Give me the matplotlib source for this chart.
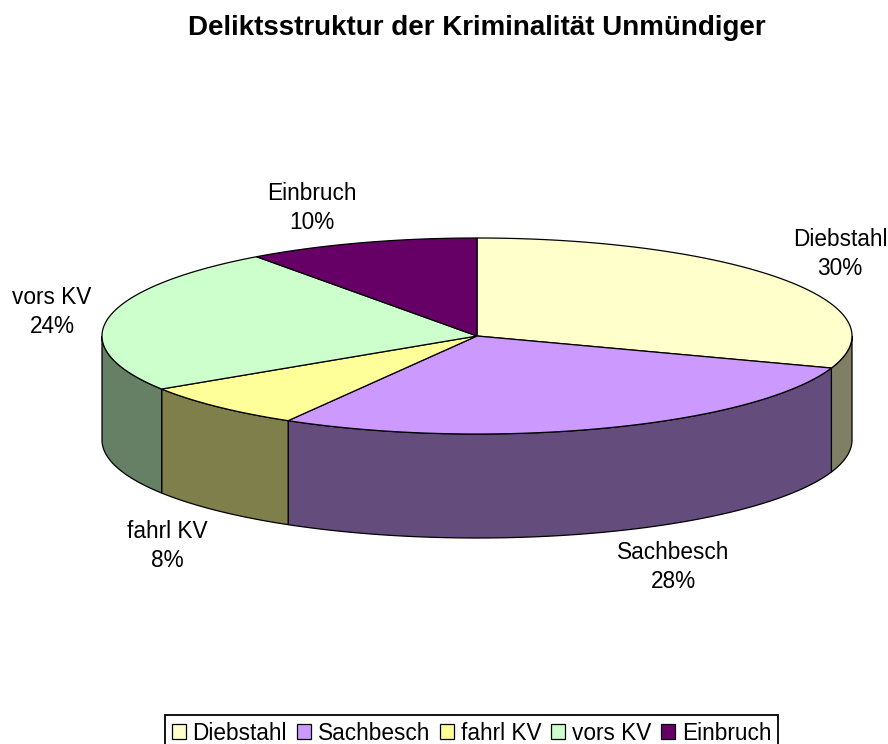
# -*- coding: utf-8 -*-
import numpy as np
import matplotlib
matplotlib.use('Agg')
import matplotlib.pyplot as plt
from matplotlib.patches import Patch, Polygon

plt.rcParams['font.family'] = ['Liberation Sans', 'DejaVu Sans']

# Daten
categories = ['Diebstahl', 'Sachbesch', 'fahrl KV', 'vors KV', 'Einbruch']
values = [30.3, 28.1, 7.5, 24.1, 10.0]
colors = ['#FFFFCC', '#CC99FF', '#FFFF99', '#CCFFCC', '#660066']
side_colors = ['#7F7F66', '#644C7C', '#7F7F4C', '#668066', '#330033']

# Lage der Torte in Pixeln
cx, cy = 477, 336
rx, ry = 375, 98
depth = 104


def rim(a0, a1):
    t = np.radians(np.linspace(a0, a1, 200))
    return cx + rx * np.cos(t), cy - ry * np.sin(t)


fig = plt.figure(figsize=(8.88, 7.44), dpi=100)
ax = fig.add_axes([0, 0, 1, 1])
ax.set_xlim(0, 888)
ax.set_ylim(744, 0)
ax.axis('off')

shares = np.array(values) / sum(values)
ends = 90 - 360 * np.cumsum(shares)
starts = np.r_[90, ends[:-1]]

# Seitenwand: nur der vordere Teil der Ellipse ist sichtbar
for a0, a1, c in zip(starts, ends, side_colors):
    lo, hi = max(a1, -180), min(a0, 0)
    if lo >= hi:
        continue
    x, y = rim(hi, lo)
    pts = np.r_[np.c_[x, y], np.c_[x[::-1], y[::-1] + depth]]
    ax.add_patch(Polygon(pts, closed=True, fc=c, ec='black', lw=0.9, zorder=1))

# Deckel
for a0, a1, c in zip(starts, ends, colors):
    x, y = rim(a0, a1)
    pts = np.r_[[[cx, cy]], np.c_[x, y]]
    ax.add_patch(Polygon(pts, closed=True, fc=c, ec='black', lw=0.9, zorder=2))

# Beschriftung
label_pos = [(840, 254), (673, 567), (167, 546), (52, 312), (312, 208)]
for name, v, (lx, ly) in zip(categories, values, label_pos):
    ax.text(lx, ly, f'{name}\n{v:.0f}%', ha='center', va='center', fontsize=16.3,
            color='black', linespacing=1.36)

ax.text(477, 28, 'Deliktsstruktur der Kriminalität Unmündiger', ha='center',
        va='center', fontsize=20, fontweight='bold')

handles = [Patch(fc=c, ec='black', lw=0.9) for c in colors]
leg = ax.legend(handles, categories, ncol=5, loc='upper center', bbox_to_anchor=(471.5, 715),
                bbox_transform=ax.transData, fontsize=16.3, frameon=True, fancybox=False,
                edgecolor='black', framealpha=1, handlelength=0.62, handleheight=0.62,
                handletextpad=0.3, columnspacing=0.43, borderpad=0.3, borderaxespad=0)
leg.get_frame().set_linewidth(1.3)

fig.savefig('out.png', dpi=100)
